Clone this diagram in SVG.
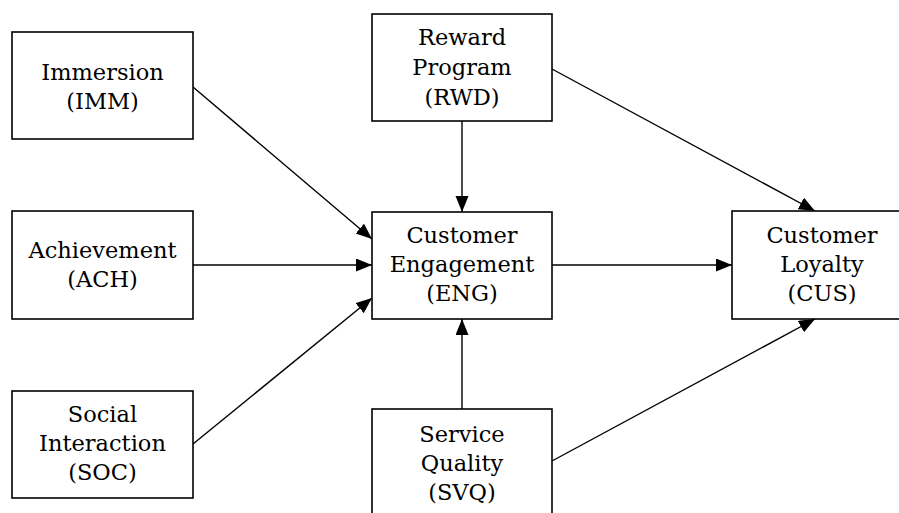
<svg xmlns="http://www.w3.org/2000/svg" width="899" height="513" viewBox="0 0 899 513">
<style>
.box{fill:#fff;stroke:#000;stroke-width:1.6}
.lbl{font-family:"DejaVu Serif","Liberation Serif",serif;font-size:22.5px;fill:#000;text-anchor:middle}
.edge{stroke:#000;stroke-width:1.4;fill:none;marker-end:url(#ah)}
</style>
<defs>
<marker id="ah" markerUnits="userSpaceOnUse" markerWidth="17" markerHeight="14" refX="16" refY="6.5" orient="auto">
<path d="M0,0 L16,6.5 L0,13 z" fill="#000"/>
</marker>
</defs>
<rect width="899" height="513" fill="#fff"/>
<g id="connectors">
<line class="edge" x1="193" y1="87" x2="372" y2="239"/>
<line class="edge" x1="193" y1="265" x2="372" y2="265"/>
<line class="edge" x1="193" y1="444" x2="372" y2="298"/>
<line class="edge" x1="462" y1="121" x2="462" y2="212"/>
<line class="edge" x1="462" y1="409" x2="462" y2="319"/>
<line class="edge" x1="552" y1="265" x2="732" y2="265"/>
<line class="edge" x1="552" y1="69" x2="815" y2="211"/>
<line class="edge" x1="552" y1="461" x2="815" y2="319"/>
</g>
<g id="IMM">
<rect class="box" x="12" y="32" width="181" height="107"/>
<text class="lbl" x="102.5" y="80">Immersion</text>
<text class="lbl" x="102.5" y="109">(IMM)</text>
</g>
<g id="ACH">
<rect class="box" x="12" y="211" width="181" height="108"/>
<text class="lbl" x="102.5" y="258">Achievement</text>
<text class="lbl" x="102.5" y="287">(ACH)</text>
</g>
<g id="SOC">
<rect class="box" x="12" y="391" width="181" height="107"/>
<text class="lbl" x="102.5" y="422">Social</text>
<text class="lbl" x="102.5" y="451">Interaction</text>
<text class="lbl" x="102.5" y="480">(SOC)</text>
</g>
<g id="RWD">
<rect class="box" x="372" y="14" width="180" height="107"/>
<text class="lbl" x="462" y="45">Reward</text>
<text class="lbl" x="462" y="75">Program</text>
<text class="lbl" x="462" y="105">(RWD)</text>
</g>
<g id="ENG">
<rect class="box" x="372" y="212" width="180" height="107"/>
<text class="lbl" x="462" y="243">Customer</text>
<text class="lbl" x="462" y="272">Engagement</text>
<text class="lbl" x="462" y="301">(ENG)</text>
</g>
<g id="SVQ">
<rect class="box" x="372" y="409" width="180" height="110"/>
<text class="lbl" x="462" y="442">Service</text>
<text class="lbl" x="462" y="471">Quality</text>
<text class="lbl" x="462" y="500">(SVQ)</text>
</g>
<g id="CUS">
<rect class="box" x="732" y="211" width="180" height="108"/>
<text class="lbl" x="822" y="243">Customer</text>
<text class="lbl" x="822" y="272">Loyalty</text>
<text class="lbl" x="822" y="301">(CUS)</text>
</g>
</svg>
